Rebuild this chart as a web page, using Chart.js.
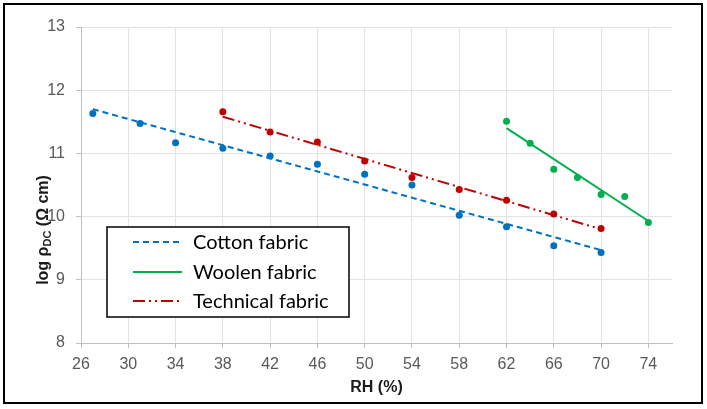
<!DOCTYPE html>
<html>
<head>
<meta charset="utf-8">
<script src="https://cdn.jsdelivr.net/npm/chart.js@4.4.1/dist/chart.umd.min.js"></script>
<style>
  html, body { margin: 0; padding: 0; background: #ffffff; }
  #wrap { width: 707px; height: 409px; position: relative; }
</style>
</head>
<body>
<div id="wrap"><canvas id="c" width="707" height="409"></canvas></div>
<script>
// ---- data ----
const cottonRH = [27, 31, 34, 38, 42, 46, 50, 54, 58, 62, 66, 70];
const cottonLog = [11.63, 11.475, 11.17, 11.08, 10.96, 10.83, 10.67, 10.50, 10.02, 9.84, 9.54, 9.43];
const woolenRH = [62, 64, 66, 68, 70, 72, 74];
const woolenLog = [11.51, 11.16, 10.75, 10.62, 10.35, 10.32, 9.905];
const technicalRH = [38, 42, 46, 50, 54, 58, 62, 66, 70];
const technicalLog = [11.66, 11.34, 11.18, 10.88, 10.62, 10.43, 10.26, 10.04, 9.81];

// trend line end points
const cottonTrendRH = [27, 70];
const cottonTrendLog = [11.70, 9.47];
const woolenTrendRH = [62, 74];
const woolenTrendLog = [11.40, 9.93];
const technicalTrendRH = [38, 70];
const technicalTrendLog = [11.58, 9.80];

const xTickValues = [26, 30, 34, 38, 42, 46, 50, 54, 58, 62, 66, 70, 74];
const yTickValues = [8, 9, 10, 11, 12, 13];
const legendLabels = ['Cotton fabric', 'Woolen fabric', 'Technical fabric'];
const xTitle = 'RH (%)';

const BLUE = '#0070C0', GREEN = '#00B050', RED = '#C00000';
const pts = (xs, ys) => xs.map((x, i) => ({ x: x, y: ys[i] }));

const DASH_COTTON = [6, 4];
const DASH_TECH = [12, 4, 2, 4, 2, 4];

const decorPlugin = {
  id: 'decor',
  beforeDraw(chart) {
    const ctx = chart.ctx;
    ctx.save();
    ctx.fillStyle = '#ffffff';
    ctx.fillRect(0, 0, chart.width, chart.height);
    ctx.restore();
  },
  afterDraw(chart) {
    const ctx = chart.ctx;
    const ca = chart.chartArea;
    ctx.save();
    // outer border
    ctx.strokeStyle = '#000000';
    ctx.lineWidth = 2;
    ctx.strokeRect(4, 4, 698, 399);

    // x title
    ctx.fillStyle = '#1a1a1a';
    ctx.font = 'bold 16px "Liberation Sans", Arial, sans-serif';
    ctx.textAlign = 'center';
    ctx.textBaseline = 'middle';
    ctx.fillText(xTitle, (ca.left + ca.right) / 2, 388);

    // y title, rotated, with subscript
    ctx.save();
    ctx.translate(44, 230);
    ctx.rotate(-Math.PI / 2);
    const big = 'bold 16px "Liberation Sans", Arial, sans-serif';
    const small = 'bold 11px "Liberation Sans", Arial, sans-serif';
    const parts = [
      { t: 'log \u03C1', f: big, dy: 0 },
      { t: 'DC', f: small, dy: 4 },
      { t: ' (\u03A9 cm)', f: big, dy: 0 }
    ];
    let total = 0;
    parts.forEach(p => { ctx.font = p.f; p.w = ctx.measureText(p.t).width; total += p.w; });
    let xx = -total / 2;
    ctx.textAlign = 'left';
    ctx.textBaseline = 'middle';
    parts.forEach(p => { ctx.font = p.f; ctx.fillText(p.t, xx, p.dy); xx += p.w; });
    ctx.restore();

    // legend box
    const bx = 107, by = 227, bw = 242, bh = 90;
    ctx.fillStyle = '#ffffff';
    ctx.fillRect(bx, by, bw, bh);
    ctx.strokeStyle = '#000000';
    ctx.lineWidth = 1.5;
    ctx.strokeRect(bx, by, bw, bh);
    const rows = [242, 272, 301];
    const styles = [
      { c: BLUE, d: DASH_COTTON },
      { c: GREEN, d: [] },
      { c: RED, d: DASH_TECH }
    ];
    ctx.font = '20px Lato, "Liberation Sans", sans-serif';
    ctx.textAlign = 'left';
    ctx.textBaseline = 'middle';
    rows.forEach((ry, i) => {
      ctx.save();
      ctx.strokeStyle = styles[i].c;
      ctx.lineWidth = 2;
      ctx.setLineDash(styles[i].d);
      ctx.beginPath();
      ctx.moveTo(133, ry);
      ctx.lineTo(182, ry);
      ctx.stroke();
      ctx.restore();
      ctx.fillStyle = '#000000';
      ctx.fillText(legendLabels[i], 193, ry + 1);
    });
    ctx.restore();
  }
};

new Chart(document.getElementById('c'), {
  type: 'scatter',
  data: {
    datasets: [
      { label: 'Cotton trend', data: pts(cottonTrendRH, cottonTrendLog), showLine: true, borderColor: BLUE, borderWidth: 2, borderDash: DASH_COTTON, pointRadius: 0, fill: false },
      { label: 'Woolen trend', data: pts(woolenTrendRH, woolenTrendLog), showLine: true, borderColor: GREEN, borderWidth: 2, pointRadius: 0, fill: false },
      { label: 'Technical trend', data: pts(technicalTrendRH, technicalTrendLog), showLine: true, borderColor: RED, borderWidth: 2, borderDash: DASH_TECH, pointRadius: 0, fill: false },
      { label: legendLabels[0], data: pts(cottonRH, cottonLog), showLine: false, pointRadius: 3.5, pointBackgroundColor: BLUE, pointBorderColor: BLUE, pointBorderWidth: 0 },
      { label: legendLabels[1], data: pts(woolenRH, woolenLog), showLine: false, pointRadius: 3.5, pointBackgroundColor: GREEN, pointBorderColor: GREEN, pointBorderWidth: 0 },
      { label: legendLabels[2], data: pts(technicalRH, technicalLog), showLine: false, pointRadius: 3.5, pointBackgroundColor: RED, pointBorderColor: RED, pointBorderWidth: 0 }
    ]
  },
  options: {
    responsive: false,
    animation: false,
    events: [],
    layout: { padding: { left: 0, top: 27, right: 35, bottom: 0 } },
    plugins: { legend: { display: false }, tooltip: { enabled: false }, title: { display: false } },
    scales: {
      x: {
        type: 'linear',
        min: 26,
        max: 76,
        afterBuildTicks: (s) => { s.ticks = xTickValues.map(v => ({ value: v })); },
        afterFit: (s) => { s.height = 66; },
        grid: { color: '#e3e3e3', lineWidth: 1, drawTicks: true, tickLength: 5, tickColor: '#bfbfbf' },
        border: { display: true, color: '#bfbfbf', width: 1 },
        ticks: { color: '#595959', font: { family: '"Liberation Sans", Arial, sans-serif', size: 16 }, padding: 7, maxRotation: 0, autoSkip: false }
      },
      y: {
        type: 'linear',
        min: 8,
        max: 13,
        afterBuildTicks: (s) => { s.ticks = yTickValues.map(v => ({ value: v })); },
        afterFit: (s) => { s.width = 81; },
        grid: { color: '#e3e3e3', lineWidth: 1, drawTicks: true, tickLength: 5, tickColor: '#bfbfbf' },
        border: { display: true, color: '#bfbfbf', width: 1 },
        ticks: { color: '#595959', font: { family: '"Liberation Sans", Arial, sans-serif', size: 16 }, padding: 11 }
      }
    }
  },
  plugins: [decorPlugin]
});
</script>
</body>
</html>
